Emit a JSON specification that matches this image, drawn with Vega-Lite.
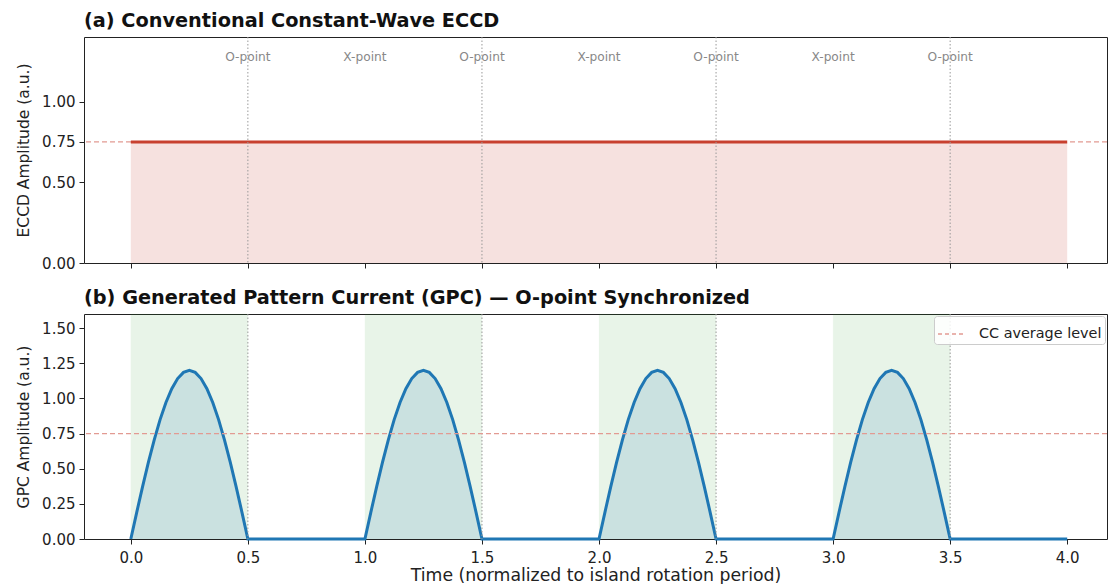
{
  "$schema": "https://vega.github.io/schema/vega-lite/v6.json",
  "padding": {"left": 16, "top": 11, "right": 0, "bottom": 0},
  "background": "white",
  "config": {
    "font": "DejaVu Sans",
    "view": {"stroke": "#222", "strokeWidth": 1},
    "axis": {
      "grid": false, "domain": false, "labelFont": "DejaVu Sans", "titleFont": "DejaVu Sans",
      "labelFontSize": 15, "titleFontSize": 15.5, "titleFontWeight": "normal", "labelOverlap": false,
      "labelColor": "#222", "titleColor": "#222", "tickColor": "#222", "tickSize": 5, "labelPadding": 4
    },
    "title": {"font": "DejaVu Sans", "fontWeight": "bold", "fontSize": 19.3, "anchor": "start", "frame": "group", "offset": 5, "color": "#111"}
  },
  "resolve": {"scale": {"color": "independent"}, "legend": {"color": "independent"}},
  "datasets": {
    "cw": [{"t": 0, "v": 0.75}, {"t": 4, "v": 0.75}],
    "opts": [{"t": 0.5}, {"t": 1.5}, {"t": 2.5}, {"t": 3.5}],
    "labels": [
      {"t": 0.5, "lab": "O-point"}, {"t": 1.0, "lab": "X-point"}, {"t": 1.5, "lab": "O-point"},
      {"t": 2.0, "lab": "X-point"}, {"t": 2.5, "lab": "O-point"}, {"t": 3.0, "lab": "X-point"}, {"t": 3.5, "lab": "O-point"}
    ],
    "bands": [{"a": 0, "b": 0.5, "lo": 0, "hi": 1.6}, {"a": 1, "b": 1.5, "lo": 0, "hi": 1.6}, {"a": 2, "b": 2.5, "lo": 0, "hi": 1.6}, {"a": 3, "b": 3.5, "lo": 0, "hi": 1.6}],
    "gpc": [
      {"t":0,"y":0},{"t":0.025,"y":0.188},{"t":0.05,"y":0.371},{"t":0.075,"y":0.545},{"t":0.1,"y":0.705},{"t":0.125,"y":0.849},{"t":0.15,"y":0.971},{"t":0.175,"y":1.069},{"t":0.2,"y":1.141},{"t":0.225,"y":1.185},{"t":0.25,"y":1.2},{"t":0.275,"y":1.185},{"t":0.3,"y":1.141},{"t":0.325,"y":1.069},{"t":0.35,"y":0.971},{"t":0.375,"y":0.849},{"t":0.4,"y":0.705},{"t":0.425,"y":0.545},{"t":0.45,"y":0.371},{"t":0.475,"y":0.188},{"t":0.5,"y":0},
      {"t":1,"y":0},{"t":1.025,"y":0.188},{"t":1.05,"y":0.371},{"t":1.075,"y":0.545},{"t":1.1,"y":0.705},{"t":1.125,"y":0.849},{"t":1.15,"y":0.971},{"t":1.175,"y":1.069},{"t":1.2,"y":1.141},{"t":1.225,"y":1.185},{"t":1.25,"y":1.2},{"t":1.275,"y":1.185},{"t":1.3,"y":1.141},{"t":1.325,"y":1.069},{"t":1.35,"y":0.971},{"t":1.375,"y":0.849},{"t":1.4,"y":0.705},{"t":1.425,"y":0.545},{"t":1.45,"y":0.371},{"t":1.475,"y":0.188},{"t":1.5,"y":0},
      {"t":2,"y":0},{"t":2.025,"y":0.188},{"t":2.05,"y":0.371},{"t":2.075,"y":0.545},{"t":2.1,"y":0.705},{"t":2.125,"y":0.849},{"t":2.15,"y":0.971},{"t":2.175,"y":1.069},{"t":2.2,"y":1.141},{"t":2.225,"y":1.185},{"t":2.25,"y":1.2},{"t":2.275,"y":1.185},{"t":2.3,"y":1.141},{"t":2.325,"y":1.069},{"t":2.35,"y":0.971},{"t":2.375,"y":0.849},{"t":2.4,"y":0.705},{"t":2.425,"y":0.545},{"t":2.45,"y":0.371},{"t":2.475,"y":0.188},{"t":2.5,"y":0},
      {"t":3,"y":0},{"t":3.025,"y":0.188},{"t":3.05,"y":0.371},{"t":3.075,"y":0.545},{"t":3.1,"y":0.705},{"t":3.125,"y":0.849},{"t":3.15,"y":0.971},{"t":3.175,"y":1.069},{"t":3.2,"y":1.141},{"t":3.225,"y":1.185},{"t":3.25,"y":1.2},{"t":3.275,"y":1.185},{"t":3.3,"y":1.141},{"t":3.325,"y":1.069},{"t":3.35,"y":0.971},{"t":3.375,"y":0.849},{"t":3.4,"y":0.705},{"t":3.425,"y":0.545},{"t":3.45,"y":0.371},{"t":3.475,"y":0.188},{"t":3.5,"y":0},
      {"t":4,"y":0}
    ]
  },
  "spacing": 16,
  "vconcat": [
    {
      "width": 1023, "height": 226,
      "title": {"text": "(a) Conventional Constant-Wave ECCD"},
      "layer": [
        {
          "data": {"name": "cw"},
          "mark": {"type": "area", "color": "#c0392b", "opacity": 0.15},
          "encoding": {
            "x": {"field": "t", "type": "quantitative", "scale": {"domain": [-0.2, 4.17], "nice": false, "zero": false},
                  "axis": {"values": [0, 0.5, 1, 1.5, 2, 2.5, 3, 3.5, 4], "labels": false, "title": null}},
            "y": {"field": "v", "type": "quantitative", "scale": {"domain": [0, 1.4], "nice": false},
                  "axis": {"values": [0, 0.5, 0.75, 1.0], "format": ".2f", "title": "ECCD Amplitude (a.u.)", "titlePadding": 10}}
          }
        },
        {
          "data": {"values": [{"y": 0.75}]},
          "mark": {"type": "rule", "color": "#e29a92", "strokeWidth": 1.3, "strokeDash": [5, 3]},
          "encoding": {"y": {"field": "y", "type": "quantitative"}}
        },
        {
          "data": {"name": "cw"},
          "mark": {"type": "line", "color": "#c8402f", "strokeWidth": 3},
          "encoding": {"x": {"field": "t", "type": "quantitative"}, "y": {"field": "v", "type": "quantitative"}}
        },
        {
          "data": {"name": "opts"},
          "mark": {"type": "rule", "color": "#999", "strokeWidth": 1, "strokeDash": [1.5, 2]},
          "encoding": {"x": {"field": "t", "type": "quantitative"}}
        },
        {
          "data": {"name": "labels"},
          "mark": {"type": "text", "color": "#888", "fontSize": 12.2, "baseline": "middle", "align": "center"},
          "encoding": {"x": {"field": "t", "type": "quantitative"}, "y": {"datum": 1.275, "type": "quantitative"}, "text": {"field": "lab"}}
        }
      ]
    },
    {
      "width": 1023, "height": 225,
      "title": {"text": "(b) Generated Pattern Current (GPC) — O-point Synchronized"},
      "layer": [
        {
          "data": {"name": "bands"},
          "mark": {"type": "rect", "color": "#2ca02c", "opacity": 0.1, "stroke": "#2ca02c", "strokeWidth": 1, "strokeOpacity": 0.15},
          "encoding": {
            "x": {"field": "a", "type": "quantitative", "scale": {"domain": [-0.2, 4.17], "nice": false, "zero": false},
                  "axis": {"values": [0, 0.5, 1, 1.5, 2, 2.5, 3, 3.5, 4], "format": ".1f", "title": "Time (normalized to island rotation period)", "labelPadding": 6, "titlePadding": 1, "titleFontSize": 17.3}},
            "x2": {"field": "b"},
            "y": {"field": "lo", "type": "quantitative", "scale": {"domain": [0, 1.6], "nice": false},
                  "axis": {"values": [0, 0.25, 0.5, 0.75, 1.0, 1.25, 1.5], "format": ".2f", "title": "GPC Amplitude (a.u.)", "titlePadding": 10, "labelOverlap": false}},
            "y2": {"field": "hi"}
          }
        },
        {
          "data": {"name": "gpc"},
          "mark": {"type": "area", "color": "#1f77b4", "opacity": 0.15},
          "encoding": {"x": {"field": "t", "type": "quantitative"},
                       "y": {"field": "y", "type": "quantitative", "axis": {"values": [0, 0.25, 0.5, 0.75, 1.0, 1.25, 1.5], "format": ".2f", "title": "GPC Amplitude (a.u.)", "titlePadding": 10, "labelOverlap": false}}}
        },
        {
          "data": {"name": "gpc"},
          "mark": {"type": "line", "color": "#1f77b4", "strokeWidth": 3},
          "encoding": {"x": {"field": "t", "type": "quantitative"},
                       "y": {"field": "y", "type": "quantitative", "axis": {"values": [0, 0.25, 0.5, 0.75, 1.0, 1.25, 1.5], "format": ".2f", "title": "GPC Amplitude (a.u.)", "titlePadding": 10, "labelOverlap": false}}}
        },
        {
          "data": {"name": "opts"},
          "mark": {"type": "rule", "color": "#999", "strokeWidth": 1, "strokeDash": [1.5, 2]},
          "encoding": {"x": {"field": "t", "type": "quantitative"}}
        },
        {
          "data": {"values": [{"y": 0.75, "s": "CC average level"}]},
          "mark": {"type": "rule", "strokeWidth": 1.3, "strokeDash": [5, 3]},
          "encoding": {
            "y": {"field": "y", "type": "quantitative", "axis": {"values": [0, 0.25, 0.5, 0.75, 1.0, 1.25, 1.5], "format": ".2f", "title": "GPC Amplitude (a.u.)", "titlePadding": 10, "labelOverlap": false}},
            "color": {"field": "s", "type": "nominal", "scale": {"range": ["#e29a92"]},
                      "legend": {"title": null, "orient": "top-right", "offset": 2, "fillColor": "rgba(255,255,255,0.85)", "strokeColor": "#ccc",
                                 "padding": 3, "cornerRadius": 3, "labelFontSize": 14.4, "labelFont": "DejaVu Sans", "labelColor": "#222",
                                 "symbolType": "stroke", "symbolDash": [4, 3], "symbolStrokeWidth": 1.3, "symbolSize": 784, "labelOffset": 12}}
          }
        }
      ]
    }
  ]
}
